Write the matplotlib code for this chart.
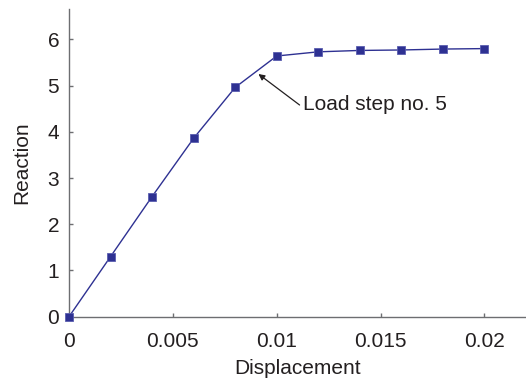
import matplotlib
matplotlib.use("Agg")
import matplotlib.pyplot as plt

disp = [0.0, 0.002, 0.004, 0.006, 0.008, 0.010, 0.012, 0.014, 0.016, 0.018, 0.020]
reaction = [0.0, 1.30, 2.60, 3.86, 4.96, 5.64, 5.73, 5.76, 5.77, 5.79, 5.80]
xticks = [0, 0.005, 0.01, 0.015, 0.02]
xticklabels = ["0", "0.005", "0.01", "0.015", "0.02"]
yticks = [0, 1, 2, 3, 4, 5, 6]
yticklabels = ["0", "1", "2", "3", "4", "5", "6"]

plt.rcParams['font.family'] = ['Liberation Sans', 'DejaVu Sans']
text_c = '#231F20'
axis_c = '#6d6e71'
line_c = '#2E3192'

fig = plt.figure(figsize=(5.26, 3.81), dpi=100)
ax = fig.add_axes([69/526, (381-316.7)/381, (526-69)/526, (316.7-9.3)/381])
ax.plot(disp, reaction, color=line_c, lw=1.0, marker='s', ms=6,
        mfc=line_c, mec='#5a5db0', mew=0.6, clip_on=False, zorder=3)
ax.set_xlim(0, 0.022)
ax.set_ylim(0, 6.65)
for s in ['top', 'right']:
    ax.spines[s].set_visible(False)
for s in ['left', 'bottom']:
    ax.spines[s].set_color(axis_c)
    ax.spines[s].set_linewidth(1.0)
ax.set_xticks(xticks)
ax.set_xticklabels(xticklabels)
ax.set_yticks(yticks)
ax.set_yticklabels(yticklabels)
ax.tick_params(direction='in', length=3, width=1, color=axis_c,
               labelsize=15, labelcolor=text_c)
ax.tick_params(axis='y', pad=7)
ax.tick_params(axis='x', pad=11)
ax.set_xlabel('Displacement', fontsize=15, color=text_c, labelpad=6)
ax.set_ylabel('Reaction', fontsize=15, color=text_c, labelpad=12)
ax.annotate('', xy=(0.00912, 5.25), xytext=(0.01110, 4.58),
            arrowprops=dict(arrowstyle='-|>', color='#231F20', lw=0.9,
                            shrinkA=0, shrinkB=0, mutation_scale=9))
ax.text(0.01128, 4.58, 'Load step no. 5', fontsize=15, color=text_c,
        va='center', ha='left')
fig.savefig('out.png', dpi=100)
